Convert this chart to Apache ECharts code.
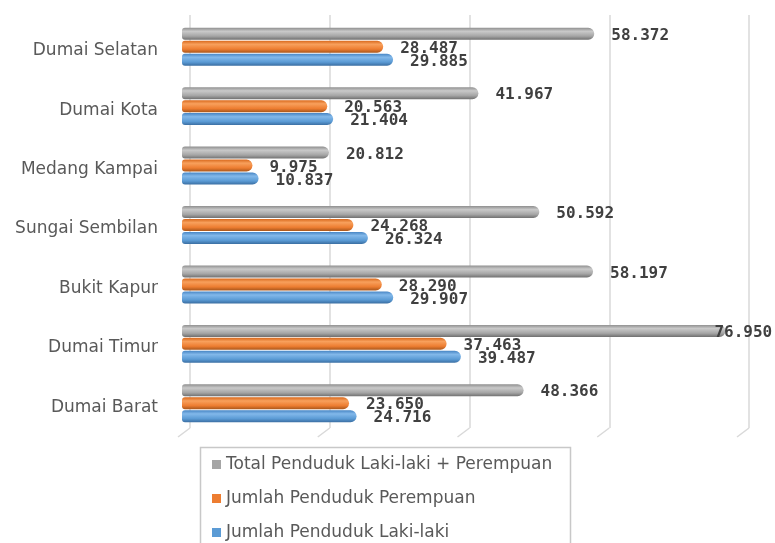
<!DOCTYPE html>
<html>
<head>
<meta charset="utf-8">
<script src="https://cdn.jsdelivr.net/npm/echarts@6/dist/echarts.min.js"></script>
<style>
  html, body { margin: 0; padding: 0; background: #fff; }
  #chart { width: 775px; height: 543px; }
</style>
</head>
<body>
<div id="chart"></div>
<script>
var kecamatan = ['Dumai Selatan', 'Dumai Kota', 'Medang Kampai', 'Sungai Sembilan', 'Bukit Kapur', 'Dumai Timur', 'Dumai Barat'];
var totalPenduduk = [58372, 41967, 20812, 50592, 58197, 76950, 48366];
var perempuan = [28487, 20563, 9975, 24268, 28290, 37463, 23650];
var lakiLaki = [29885, 21404, 10837, 26324, 29907, 39487, 24716];
var gridTicks = [0, 20000, 40000, 60000, 80000];

var namaTotal = 'Total Penduduk Laki-laki + Perempuan';
var namaPerempuan = 'Jumlah Penduduk Perempuan';
var namaLaki = 'Jumlah Penduduk Laki-laki';

var textColor = '#595959';
var catFont = 'DejaVu Sans';

// angka pakai titik sebagai pemisah ribuan
function fmt(v) {
    return String(v).replace(/\B(?=(\d{3})+(?!\d))/g, '.');
}

function cylinder(c1, c2, c3, c4) {
    return new echarts.graphic.LinearGradient(0, 0, 0, 1, [
        { offset: 0, color: c1 },
        { offset: 0.3, color: c2 },
        { offset: 0.7, color: c3 },
        { offset: 1, color: c4 }
    ]);
}

var labelStyle = {
    show: true,
    position: 'right',
    distance: 17,
    offset: [0, 2],
    color: '#404040',
    fontFamily: 'DejaVu Sans Mono',
    fontWeight: 'bold',
    fontSize: 16,
    formatter: function (p) { return fmt(p.value); }
};

function barSeries(name, values, color) {
    return {
        name: name,
        type: 'bar',
        xAxisIndex: 0,
        yAxisIndex: 0,
        barWidth: 12,
        barGap: '8%',
        itemStyle: { color: color, borderRadius: [3, 6, 6, 3] },
        label: labelStyle,
        data: values.slice()
    };
}

var totalData = totalPenduduk.map(function (v) {
    // label angka terbesar masuk sedikit ke ujung batang
    if (v === Math.max.apply(null, totalPenduduk)) {
        return { value: v, label: { distance: -11 } };
    }
    return v;
});

var chart = echarts.init(document.getElementById('chart'));
chart.setOption({
    animation: false,
    backgroundColor: '#ffffff',
    grid: [
        { left: 182, width: 565, top: 17, bottom: 110 },
        { left: 190, width: 559, top: 15, bottom: 115 }
    ],
    xAxis: [
        { gridIndex: 0, type: 'value', min: 0, max: 80000, interval: 20000,
          axisLabel: { show: false }, axisLine: { show: false }, axisTick: { show: false },
          splitLine: { show: false } },
        { gridIndex: 1, type: 'value', min: 0, max: 80000, interval: 20000,
          axisLabel: { show: false }, axisLine: { show: false }, axisTick: { show: false },
          splitLine: { show: true, lineStyle: { color: '#d9d9d9', width: 1.5 } } }
    ],
    yAxis: [
        { gridIndex: 0, type: 'category', inverse: true, data: kecamatan,
          axisLine: { show: false }, axisTick: { show: false },
          axisLabel: { margin: 24, color: textColor, fontFamily: catFont, fontSize: 17,
                       verticalAlign: 'top', lineHeight: 8 } },
        { gridIndex: 1, type: 'value', min: 0, max: 1, show: false }
    ],
    legend: {
        orient: 'vertical',
        left: 207,
        top: 451,
        height: 200,
        itemWidth: 9,
        itemHeight: 9,
        itemGap: 17,
        icon: 'rect',
        data: [
            { name: namaTotal, itemStyle: { color: '#a5a5a5' } },
            { name: namaPerempuan, itemStyle: { color: '#ed7d31' } },
            { name: namaLaki, itemStyle: { color: '#5b9bd5' } }
        ],
        textStyle: { color: textColor, fontFamily: catFont, fontSize: 17, lineHeight: 17 }
    },
    graphic: [{
        type: 'rect',
        shape: { x: 200.5, y: 447.5, width: 370, height: 110 },
        style: { fill: 'none', stroke: '#c8c8c8', lineWidth: 1.5 },
        silent: true
    }],
    series: [
        Object.assign(barSeries(namaTotal, totalPenduduk, cylinder('#8f8f8f', '#c9c9c9', '#a5a5a5', '#707070')), { data: totalData }),
        barSeries(namaPerempuan, perempuan, cylinder('#d8681c', '#f8a05c', '#ed7d31', '#a8561b')),
        barSeries(namaLaki, lakiLaki, cylinder('#4785c4', '#82b8ea', '#5b9bd5', '#3a6ea2')),
        {
            // kaki garis grid (efek 3D)
            type: 'custom',
            xAxisIndex: 1,
            yAxisIndex: 1,
            silent: true,
            data: gridTicks,
            renderItem: function (params, api) {
                var p = api.coord([api.value(0), 0]);
                return {
                    type: 'line',
                    shape: { x1: p[0], y1: p[1], x2: p[0] - 12, y2: p[1] + 9 },
                    style: { stroke: '#d9d9d9', lineWidth: 1.5 }
                };
            }
        }
    ]
});
</script>
</body>
</html>
